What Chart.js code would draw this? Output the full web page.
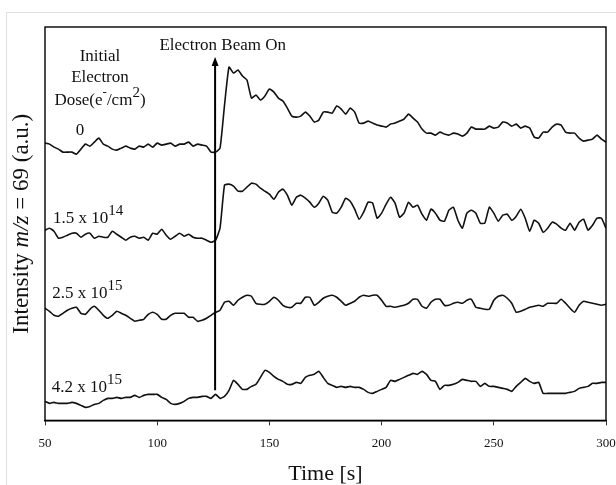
<!DOCTYPE html>
<html>
<head>
<meta charset="utf-8">
<script src="https://cdn.jsdelivr.net/npm/chart.js@4.4.1/dist/chart.umd.min.js"></script>
<style>
    html, body { margin: 0; padding: 0; background: #fff; }
    #wrap { position: relative; width: 616px; height: 485px; overflow: hidden; }
    #frame { position: absolute; left: 6px; top: 12px; right: -2px; bottom: -2px;
             border-left: 1px solid #e2e2e2; border-top: 1px solid #e2e2e2; }
    #plot { position: absolute; left: 0; top: 0; }
</style>
</head>
<body>
<div id="wrap">
    <div id="frame"></div>
    <canvas id="plot" width="616" height="485"></canvas>
</div>
<script>
// Sampling times [s], one reading every 2 s
const times = Array.from({ length: 126 }, (_, i) => 50 + 2 * i);

// m/z = 69 signal (a.u., traces stacked) for each initial electron dose
const dose0 = [
    277, 276, 273, 271, 268, 268, 268, 266, 271, 276, 274, 278, 282, 276, 274, 271, 270, 272, 274, 272,
    271, 274, 273, 276, 273, 277, 275, 276, 277, 274, 276, 276, 278, 274, 276, 275, 274, 268, 268, 272,
    315, 353, 347, 350, 344, 340, 322, 325, 320, 324, 331, 328, 322, 319, 312, 304, 303, 304, 308, 304,
    298, 300, 308, 308, 307, 314, 311, 306, 312, 308, 297, 297, 299, 297, 295, 294, 293, 296, 297, 299,
    301, 306, 302, 298, 291, 287, 287, 285, 288, 286, 285, 287, 286, 284, 287, 293, 291, 291, 291, 294,
    292, 293, 298, 297, 294, 296, 292, 294, 292, 283, 282, 288, 288, 293, 296, 295, 288, 287, 287, 282,
    279, 280, 281, 285, 281, 278
];
const dose15e14 = [
    190, 192, 189, 182, 183, 185, 187, 187, 183, 186, 187, 182, 184, 183, 183, 189, 186, 183, 180, 183,
    184, 182, 183, 180, 187, 186, 191, 185, 181, 184, 187, 184, 186, 183, 182, 182, 180, 178, 180, 192,
    235, 236, 234, 229, 229, 233, 237, 236, 232, 229, 226, 221, 228, 231, 225, 215, 223, 225, 222, 218,
    213, 217, 224, 220, 208, 207, 213, 222, 219, 211, 201, 208, 218, 217, 202, 207, 216, 223, 217, 203,
    207, 218, 213, 215, 206, 200, 211, 207, 200, 199, 210, 213, 200, 192, 207, 210, 207, 197, 197, 213,
    207, 199, 205, 206, 200, 204, 211, 202, 189, 200, 197, 188, 192, 198, 196, 192, 190, 197, 190, 198,
    201, 190, 195, 202, 202, 192
];
const dose25e15 = [
    112, 109, 105, 104, 107, 110, 112, 113, 107, 106, 111, 114, 110, 105, 102, 105, 109, 107, 105, 102,
    99, 100, 101, 106, 108, 106, 101, 101, 105, 107, 107, 107, 103, 103, 99, 100, 102, 105, 108, 110,
    118, 119, 115, 120, 123, 125, 124, 117, 116, 116, 119, 123, 120, 115, 113, 113, 117, 117, 123, 123,
    115, 118, 122, 124, 125, 123, 119, 115, 117, 119, 123, 125, 124, 125, 125, 120, 114, 114, 113, 114,
    115, 117, 121, 121, 114, 112, 118, 121, 121, 115, 115, 117, 118, 117, 120, 121, 113, 112, 111, 111,
    120, 124, 125, 122, 117, 108, 109, 111, 113, 114, 115, 114, 117, 117, 117, 121, 117, 112, 108, 115,
    119, 118, 117, 116, 115, 116
];
const dose42e15 = [
    19, 17, 18, 17, 17, 17, 18, 17, 15, 13, 14, 16, 17, 20, 22, 22, 23, 22, 23, 23,
    25, 23, 25, 26, 26, 26, 23, 21, 17, 16, 17, 19, 22, 23, 23, 24, 24, 22, 26, 22,
    24, 30, 40, 36, 31, 31, 34, 36, 43, 50, 48, 44, 41, 39, 36, 36, 38, 37, 43, 45,
    46, 49, 43, 37, 35, 33, 34, 33, 34, 33, 33, 31, 28, 27, 29, 31, 33, 40, 39, 41,
    43, 45, 47, 46, 49, 46, 40, 39, 31, 35, 35, 36, 38, 41, 40, 39, 39, 34, 37, 34,
    34, 33, 32, 31, 29, 34, 38, 42, 39, 37, 38, 27, 27, 27, 27, 27, 27, 28, 29, 32,
    33, 34, 37, 37, 38, 38
];

const xTicks = [50, 100, 150, 200, 250, 300];

// Beam switch-on marker and trace labels (positions in data units)
const beamOnTime = 125.8;
const beamArrowSpan = [30, 363];
const doseLabels = [
    { t: 65.6, v: 290, parts: [['0']] },
    { t: 53.6, v: 202, parts: [['1.5 x 10'], ['14', 'sup']] },
    { t: 53.2, v: 127, parts: [['2.5 x 10'], ['15', 'sup']] },
    { t: 53.0, v: 33, parts: [['4.2 x 10'], ['15', 'sup']] }
];

const SERIF = '"Liberation Serif", "Times New Roman", serif';

function toPoints(values) {
    return values.map((v, i) => ({ x: times[i], y: v }));
}

// draw a run of text pieces; 'sup' pieces are smaller and raised, 'it' pieces italic
function drawRich(ctx, parts, x, y, align, size) {
    const fontFor = (kind) => {
        if (kind === 'sup') return `${Math.round(size * 0.9)}px ${SERIF}`;
        if (kind === 'supsmall') return `${Math.round(size * 0.75)}px ${SERIF}`;
        if (kind === 'it') return `italic ${size}px ${SERIF}`;
        return `${size}px ${SERIF}`;
    };
    let total = 0;
    parts.forEach(([text, kind]) => {
        ctx.font = fontFor(kind);
        total += ctx.measureText(text).width;
    });
    let cx = align === 'center' ? x - total / 2 : x;
    ctx.textAlign = 'left';
    ctx.textBaseline = 'middle';
    parts.forEach(([text, kind]) => {
        ctx.font = fontFor(kind);
        const dy = (kind === 'sup' || kind === 'supsmall') ? -size * 0.42 : 0;
        ctx.fillText(text, cx, y + dy);
        cx += ctx.measureText(text).width;
    });
}

const annotations = {
    id: 'annotations',
    afterDraw(chart) {
        const { ctx, chartArea, scales } = chart;
        const xs = scales.x, ys = scales.y;
        ctx.save();

        // box round the plot
        ctx.strokeStyle = '#000';
        ctx.lineWidth = 1.4;
        ctx.strokeRect(chartArea.left, chartArea.top, chartArea.right - chartArea.left, chartArea.bottom - chartArea.top);

        // beam-on arrow
        const ax = xs.getPixelForValue(beamOnTime);
        const yLow = ys.getPixelForValue(beamArrowSpan[0]);
        const yTip = ys.getPixelForValue(beamArrowSpan[1]);
        ctx.lineWidth = 2;
        ctx.beginPath();
        ctx.moveTo(ax, yLow);
        ctx.lineTo(ax, yTip + 6);
        ctx.stroke();
        ctx.fillStyle = '#000';
        ctx.beginPath();
        ctx.moveTo(ax, yTip);
        ctx.lineTo(ax - 3.5, yTip + 9);
        ctx.lineTo(ax + 3.5, yTip + 9);
        ctx.closePath();
        ctx.fill();

        ctx.fillStyle = '#111';
        drawRich(ctx, [['Electron Beam On']], xs.getPixelForValue(129.2), ys.getPixelForValue(374), 'center', 17);

        // legend heading
        const hx = xs.getPixelForValue(74.5);
        drawRich(ctx, [['Initial']], hx, ys.getPixelForValue(363), 'center', 17);
        drawRich(ctx, [['Electron']], hx, ys.getPixelForValue(343), 'center', 17);
        drawRich(ctx, [['Dose(e'], ['-', 'supsmall'], ['/cm'], ['2', 'sup'], [')']], hx, ys.getPixelForValue(320), 'center', 17);

        doseLabels.forEach(l => {
            drawRich(ctx, l.parts, xs.getPixelForValue(l.t), ys.getPixelForValue(l.v),
                l.parts.length === 1 ? 'center' : 'left', 17);
        });

        // y axis title with italic m/z
        ctx.translate(chartArea.left - 23, (chartArea.top + chartArea.bottom) / 2);
        ctx.rotate(-Math.PI / 2);
        drawRich(ctx, [['Intensity '], ['m/z', 'it'], [' = 69 (a.u.)']], 0, 0, 'center', 23);
        ctx.restore();
    }
};

function traceDataset(values) {
    return {
        data: toPoints(values),
        borderColor: '#111',
        borderWidth: 1.6,
        pointRadius: 0,
        tension: 0.15,
        fill: false
    };
}

document.addEventListener('DOMContentLoaded', () => {
    const ctx = document.getElementById('plot').getContext('2d');
    new Chart(ctx, {
        type: 'line',
        data: {
            datasets: [
                traceDataset(dose0),
                traceDataset(dose15e14),
                traceDataset(dose25e15),
                traceDataset(dose42e15)
            ]
        },
        options: {
            responsive: false,
            animation: false,
            layout: {
                autoPadding: false,
                padding: { left: 45, top: 27, right: 10, bottom: 0 }
            },
            plugins: {
                legend: { display: false },
                tooltip: { enabled: false }
            },
            scales: {
                x: {
                    type: 'linear',
                    min: 50,
                    max: 300,
                    afterBuildTicks: axis => { axis.ticks = xTicks.map(v => ({ value: v })); },
                    // let the end labels hang past the plot edges
                    afterFit: axis => { axis.paddingLeft = 0; axis.paddingRight = 0; },
                    grid: { drawOnChartArea: false, tickLength: 5, color: '#333', tickWidth: 1 },
                    border: { display: true, color: '#000', width: 1.4 },
                    ticks: {
                        color: '#111',
                        padding: 10,
                        maxRotation: 0,
                        font: { family: SERIF, size: 13 }
                    },
                    title: {
                        display: true,
                        text: 'Time [s]',
                        color: '#111',
                        padding: { top: 2, bottom: 0 },
                        font: { family: SERIF, size: 22, lineHeight: 1.0 }
                    }
                },
                y: {
                    display: false,
                    min: 0,
                    max: 393
                }
            }
        },
        plugins: [annotations]
    });
});
</script>
</body>
</html>
